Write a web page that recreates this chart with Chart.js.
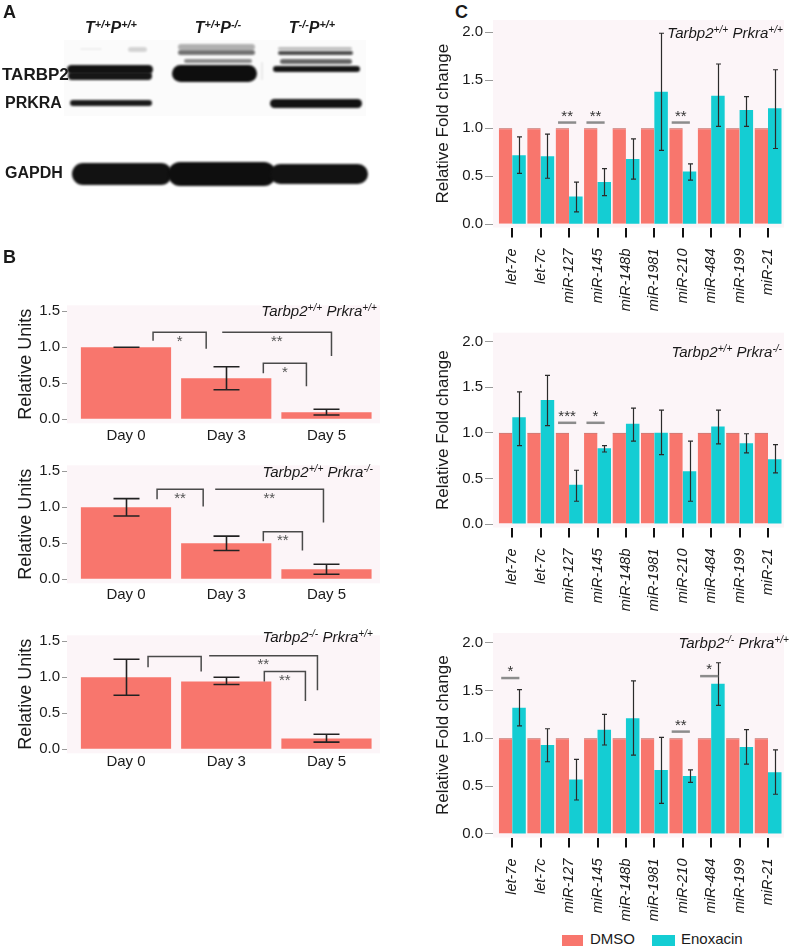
<!DOCTYPE html>
<html>
<head>
<meta charset="utf-8">
<title>TARBP2 / PRKRA and enoxacin</title>
<script src="https://cdn.jsdelivr.net/npm/chart.js@4.4.1/dist/chart.umd.min.js"></script>
<style>
  html, body { margin: 0; padding: 0; background: #fff; }
  body { position: relative; width: 792px; height: 948px; overflow: hidden;
         font-family: "Liberation Sans", Arial, sans-serif; color: #1a1a1a; }
  canvas, .t { position: absolute; }
  .t { white-space: nowrap; }
  .panel { font-weight: bold; font-size: 18px; line-height: 18px; }
  .blot { font-weight: bold; font-size: 16px; line-height: 18px; }
  .lane { font-weight: bold; font-style: italic; font-size: 16px; line-height: 16px; transform: translateX(-50%); }
  .geno { font-style: italic; font-size: 15px; line-height: 18px; }
  sup { font-size: 0.68em; line-height: 0; vertical-align: 0; position: relative; top: -0.5em; }
  .sw { position: absolute; height: 11px; }
  .leg { font-size: 15px; line-height: 16px; }
</style>
</head>
<body>
<canvas id="blot" width="392" height="200" style="left:0;top:0"></canvas>
<div class="t panel" style="left:3px;top:3px">A</div>
<div class="t panel" style="left:3px;top:248px">B</div>
<div class="t panel" style="left:455px;top:3px">C</div>

<div class="t lane" style="left:111px;top:20px">T<sup>+/+</sup>P<sup>+/+</sup></div>
<div class="t lane" style="left:218px;top:20px">T<sup>+/+</sup>P<sup>-/-</sup></div>
<div class="t lane" style="left:312px;top:20px">T<sup>-/-</sup>P<sup>+/+</sup></div>
<div class="t blot" style="left:2px;top:66px;font-size:17px">TARBP2</div>
<div class="t blot" style="left:5px;top:94px">PRKRA</div>
<div class="t blot" style="left:5px;top:164px">GAPDH</div>

<canvas id="b1"></canvas>
<canvas id="b2"></canvas>
<canvas id="b3"></canvas>
<canvas id="c1"></canvas>
<canvas id="c2"></canvas>
<canvas id="c3"></canvas>

<div class="t geno" style="right:415px;top:302px">Tarbp2<sup>+/+</sup> Prkra<sup>+/+</sup></div>
<div class="t geno" style="right:419px;top:463px">Tarbp2<sup>+/+</sup> Prkra<sup>-/-</sup></div>
<div class="t geno" style="right:419px;top:628px">Tarbp2<sup>-/-</sup> Prkra<sup>+/+</sup></div>
<div class="t geno" style="right:9px;top:24px">Tarbp2<sup>+/+</sup> Prkra<sup>+/+</sup></div>
<div class="t geno" style="right:10px;top:343px">Tarbp2<sup>+/+</sup> Prkra<sup>-/-</sup></div>
<div class="t geno" style="right:3px;top:634px">Tarbp2<sup>-/-</sup> Prkra<sup>+/+</sup></div>

<div id="legend"></div>

<script>
// ---- data ----
const days = ["Day 0", "Day 3", "Day 5"];
const mirs = ["let-7e", "let-7c", "miR-127", "miR-145", "miR-148b",
              "miR-1981", "miR-210", "miR-484", "miR-199", "miR-21"];
const seriesNames = ["DMSO", "Enoxacin"];
const unitTicks = [0, 0.5, 1, 1.5];
const foldTicks = [0, 0.5, 1, 1.5, 2];

// B: relative units over days
const wtUnits = [1.0, 0.57, 0.10];
const wtUnitsLow = [1.0, 0.41, 0.06];
const wtUnitsHigh = [1.0, 0.73, 0.14];
const pkoUnits = [1.0, 0.50, 0.14];
const pkoUnitsLow = [0.88, 0.40, 0.07];
const pkoUnitsHigh = [1.12, 0.60, 0.21];
const tkoUnits = [1.0, 0.94, 0.15];
const tkoUnitsLow = [0.75, 0.90, 0.10];
const tkoUnitsHigh = [1.25, 1.0, 0.21];

// brackets: [from, to, top, left end, right end, label]
const wtUnitsSig = [[0.27, 0.80, 1.21, 1.09, 0.98, "*"], [0.96, 2.05, 1.21, 1.21, 0.88, "**"], [1.37, 1.80, 0.78, 0.64, 0.46, "*"]];
const pkoUnitsSig = [[0.31, 0.77, 1.25, 1.11, 1.01, "**"], [0.89, 1.97, 1.25, 1.25, 0.79, "**"], [1.37, 1.76, 0.66, 0.53, 0.40, "**"]];
const tkoUnitsSig = [[0.22, 0.75, 1.29, 1.14, 1.08, ""], [0.83, 1.91, 1.30, 1.30, 0.82, "**"], [1.38, 1.79, 1.08, 0.94, 0.67, "**"]];

// C: relative fold change, DMSO vs enoxacin
const dmso = [1, 1, 1, 1, 1, 1, 1, 1, 1, 1];
const wtEno = [0.72, 0.71, 0.29, 0.44, 0.68, 1.38, 0.55, 1.34, 1.19, 1.21];
const wtEnoLow = [0.53, 0.48, 0.13, 0.30, 0.47, 0.77, 0.46, 1.02, 1.02, 0.79];
const wtEnoHigh = [0.91, 0.94, 0.44, 0.58, 0.89, 1.99, 0.63, 1.67, 1.33, 1.61];
const pkoEno = [1.17, 1.36, 0.43, 0.83, 1.10, 1.00, 0.58, 1.07, 0.885, 0.71];
const pkoEnoLow = [0.86, 1.08, 0.25, 0.79, 0.91, 0.76, 0.25, 0.88, 0.78, 0.56];
const pkoEnoHigh = [1.45, 1.63, 0.59, 0.86, 1.27, 1.25, 0.91, 1.25, 0.99, 0.87];
const tkoEno = [1.32, 0.93, 0.57, 1.09, 1.21, 0.67, 0.605, 1.57, 0.91, 0.645];
const tkoEnoLow = [1.13, 0.755, 0.355, 0.93, 0.825, 0.32, 0.54, 1.345, 0.73, 0.415];
const tkoEnoHigh = [1.51, 1.10, 0.78, 1.25, 1.60, 1.01, 0.67, 1.79, 1.09, 0.88];

// significance marks: [category, level, label]
const wtFoldSig = [[2, 1.06, "**"], [3, 1.06, "**"], [6, 1.06, "**"]];
const pkoFoldSig = [[2, 1.11, "***"], [3, 1.11, "*"]];
const tkoFoldSig = [[0, 1.63, "*"], [6, 1.07, "**"], [7, 1.65, "*"]];

// ---- styling ----
const SALMON = "#f8766d";
const CYAN = "#14cdd3";
const PANEL_BG = "#fcf5f8";
const INK = "#1a1a1a";
Chart.defaults.font.family = "'Liberation Sans', Arial, sans-serif";

// ---- plugins ----
const panelBg = {
  id: "panelBg",
  beforeDraw(chart) {
    const { ctx, chartArea: a } = chart;
    ctx.save();
    ctx.fillStyle = PANEL_BG;
    ctx.fillRect(a.left, a.top, a.right - a.left, a.bottom - a.top);
    ctx.restore();
  },
};

const errBars = {
  id: "errBars",
  afterDatasetsDraw(chart, args, opts) {
    const { ctx } = chart;
    const ys = chart.scales.y;
    ctx.save();
    ctx.strokeStyle = opts.color;
    ctx.lineWidth = opts.width;
    (opts.sets || []).forEach((s) => {
      chart.getDatasetMeta(s.dataset).data.forEach((bar, i) => {
        const x = Math.round(bar.x) + 0.5;
        const y1 = ys.getPixelForValue(s.low[i]);
        const y2 = ys.getPixelForValue(s.high[i]);
        const c = opts.cap / 2;
        ctx.beginPath();
        ctx.moveTo(x, y1); ctx.lineTo(x, y2);
        ctx.moveTo(x - c, y1); ctx.lineTo(x + c, y1);
        ctx.moveTo(x - c, y2); ctx.lineTo(x + c, y2);
        ctx.stroke();
      });
    });
    ctx.restore();
  },
};

const brackets = {
  id: "brackets",
  afterDatasetsDraw(chart, args, opts) {
    const { ctx } = chart;
    const xs = chart.scales.x, ys = chart.scales.y;
    ctx.save();
    ctx.strokeStyle = "#4a4a4a";
    ctx.lineWidth = 1.5;
    ctx.fillStyle = "#555";
    ctx.font = "15px 'Liberation Sans', Arial, sans-serif";
    ctx.textAlign = "center";
    ctx.textBaseline = "top";
    (opts.items || []).forEach(([x0, x1, top, l, r, label]) => {
      const px0 = xs.getPixelForValue(x0), px1 = xs.getPixelForValue(x1);
      const pt = ys.getPixelForValue(top);
      ctx.beginPath();
      ctx.moveTo(px0, ys.getPixelForValue(l));
      ctx.lineTo(px0, pt);
      ctx.lineTo(px1, pt);
      ctx.lineTo(px1, ys.getPixelForValue(r));
      ctx.stroke();
      if (label) ctx.fillText(label, (px0 + px1) / 2, pt + 2);
    });
    ctx.restore();
  },
};

const sigLines = {
  id: "sigLines",
  afterDatasetsDraw(chart, args, opts) {
    const { ctx } = chart;
    const xs = chart.scales.x, ys = chart.scales.y;
    ctx.save();
    ctx.strokeStyle = "#8c8c8c";
    ctx.lineWidth = 2.5;
    ctx.fillStyle = "#333";
    ctx.font = "15px 'Liberation Sans', Arial, sans-serif";
    ctx.textAlign = "center";
    ctx.textBaseline = "alphabetic";
    (opts.items || []).forEach(([i, level, label]) => {
      const py = ys.getPixelForValue(level);
      ctx.beginPath();
      ctx.moveTo(xs.getPixelForValue(i - 0.39), py);
      ctx.lineTo(xs.getPixelForValue(i + 0.25), py);
      ctx.stroke();
      ctx.fillText(label, xs.getPixelForValue(i - 0.07), py - 2);
    });
    ctx.restore();
  },
};

// ---- helpers ----
function place(id, box) {
  const c = document.getElementById(id);
  c.width = box.w; c.height = box.h;
  c.style.left = box.x + "px"; c.style.top = box.y + "px";
  c.style.width = box.w + "px"; c.style.height = box.h + "px";
  return c;
}

function noPad(s) {
  s.paddingTop = 0; s.paddingBottom = 0; s.paddingLeft = 0; s.paddingRight = 0;
}

function baseOptions(box, area, xr, yr, ticksY, yTitle, titleFont, titlePad) {
  return {
    responsive: false,
    animation: false,
    events: [],
    layout: { padding: { top: area.t - box.y, right: box.x + box.w - area.r, left: 0, bottom: 0 } },
    scales: {
      x: {
        type: "linear", min: xr.min, max: xr.max, offset: false,
        afterFit: (s) => { s.height = box.y + box.h - area.b; noPad(s); },
        border: { display: false },
      },
      y: {
        min: yr.min, max: yr.max,
        afterBuildTicks: (s) => { s.ticks = ticksY.map((v) => ({ value: v })); },
        afterFit: (s) => { s.width = area.l - box.x; noPad(s); },
        border: { display: false },
        grid: { drawOnChartArea: false, drawTicks: true, tickLength: 5, color: "#9a9a9a", lineWidth: 1 },
        ticks: { callback: (v) => v.toFixed(1), font: { size: 15 }, color: INK, padding: 2 },
        title: { display: true, text: yTitle, font: { size: titleFont }, color: INK, padding: { top: titlePad, bottom: 0 } },
      },
    },
  };
}

function buildUnits(id, box, area, yr, values, low, high, sig, labelPad) {
  const opts = baseOptions(box, area, { min: -0.5885, max: 2.534 }, yr, unitTicks, "Relative Units", 18, 15);
  Object.assign(opts.scales.x, {
    afterBuildTicks: (s) => { s.ticks = days.map((d, i) => ({ value: i })); },
    grid: { display: false, drawTicks: false },
    ticks: { callback: (v, i) => days[i], font: { size: 15 }, color: INK, padding: labelPad, maxRotation: 0, autoSkip: false },
  });
  opts.plugins = {
    legend: { display: false },
    tooltip: { enabled: false },
    errBars: { color: "#222", width: 1.6, cap: 26, sets: [{ dataset: 0, low: low, high: high }] },
    brackets: { items: sig },
  };
  return new Chart(place(id, box), {
    type: "bar",
    data: {
      datasets: [{
        label: "Relative Units",
        data: values.map((v, i) => ({ x: i, y: v })),
        backgroundColor: SALMON,
        barPercentage: 0.9,
        categoryPercentage: 1,
      }],
    },
    options: opts,
    plugins: [panelBg, errBars, brackets],
  });
}

function buildFold(id, box, area, yr, eno, low, high, sig) {
  const opts = baseOptions(box, area, { min: -0.679, max: 9.563 }, yr, foldTicks, "Relative Fold change", 17, 33);
  opts.scales.y.grid.tickLength = 8;
  Object.assign(opts.scales.x, {
    afterBuildTicks: (s) => { s.ticks = mirs.map((m, i) => ({ value: i })); },
    grid: { display: true, drawOnChartArea: false, drawTicks: true, tickLength: 10, color: "#111", lineWidth: 2, offset: false },
    ticks: {
      callback: (v, i) => mirs[i], font: { size: 14.5, style: "italic" }, color: INK,
      padding: 11, minRotation: 90, maxRotation: 90, autoSkip: false,
    },
  });
  opts.plugins = {
    legend: { display: false },
    tooltip: { enabled: false },
    errBars: { color: "#2b2b2b", width: 1.2, cap: 5, sets: [{ dataset: 1, low: low, high: high }] },
    sigLines: { items: sig },
  };
  return new Chart(place(id, box), {
    type: "bar",
    data: {
      datasets: [
        {
          label: seriesNames[0],
          data: dmso.map((v, i) => ({ x: i, y: v })),
          backgroundColor: SALMON,
          borderColor: "#b9544c",
          borderWidth: { top: 1, left: 0, right: 0, bottom: 0 },
          barPercentage: 1,
          categoryPercentage: 0.95,
        },
        {
          label: seriesNames[1],
          data: eno.map((v, i) => ({ x: i, y: v })),
          backgroundColor: CYAN,
          barPercentage: 1,
          categoryPercentage: 0.95,
        },
      ],
    },
    options: opts,
    plugins: [panelBg, errBars, sigLines],
  });
}

// ---- panel A: western blot image ----
function drawBlot() {
  const ctx = document.getElementById("blot").getContext("2d");
  ctx.fillStyle = "rgba(0,0,0,0.014)";
  ctx.fillRect(64, 40, 302, 76);
  ctx.filter = "blur(1.3px)";
  const bands = [
    [128, 147, 47, 52, "rgba(0,0,0,0.16)"],
    [80, 102, 48, 50, "rgba(0,0,0,0.06)"],
    [67, 153, 65, 74, "#121212"],
    [68, 152, 72, 80, "#161616"],
    [178, 255, 44, 50, "rgba(0,0,0,0.3)"],
    [178, 255, 50, 55, "rgba(0,0,0,0.55)"],
    [184, 252, 59, 63, "rgba(0,0,0,0.45)"],
    [172, 257, 65, 82, "#0e0e0e"],
    [278, 352, 47, 50, "rgba(0,0,0,0.25)"],
    [278, 353, 51, 55, "rgba(0,0,0,0.7)"],
    [280, 352, 59, 64, "rgba(0,0,0,0.6)"],
    [273, 360, 66, 72, "#141414"],
    [70, 152, 100, 106, "#1a1a1a"],
    [270, 362, 99, 108, "#121212"],
    [72, 172, 163, 185, "#121212"],
    [168, 276, 162, 186, "#0e0e0e"],
    [270, 368, 164, 184, "#121212"],
  ];
  bands.forEach(([x0, x1, y0, y1, col]) => {
    ctx.fillStyle = col;
    ctx.beginPath();
    ctx.roundRect(x0, y0, x1 - x0, y1 - y0, (y1 - y0) / 2);
    ctx.fill();
  });
  ctx.fillStyle = "rgba(0,0,0,0.08)";
  ctx.fillRect(261, 62, 2, 18);
}

function drawLegend() {
  const colors = [SALMON, CYAN];
  const swX = [562, 652], swW = [21, 23], txtX = [590, 681];
  const el = document.getElementById("legend");
  seriesNames.forEach((name, i) => {
    const sw = document.createElement("div");
    sw.className = "sw";
    sw.style.cssText = `left:${swX[i]}px;top:935px;width:${swW[i]}px;background:${colors[i]}`;
    const tx = document.createElement("div");
    tx.className = "t leg";
    tx.style.cssText = `left:${txtX[i]}px;top:931px`;
    tx.textContent = name;
    el.appendChild(sw);
    el.appendChild(tx);
  });
}

drawBlot();
drawLegend();

buildUnits("b1", { x: 0, y: 285, w: 390, h: 163 }, { l: 67, t: 305.3, r: 380, b: 423.3 },
  { min: -0.055, max: 1.583 }, wtUnits, wtUnitsLow, wtUnitsHigh, wtUnitsSig, 4);
buildUnits("b2", { x: 0, y: 448, w: 390, h: 162 }, { l: 67, t: 465.3, r: 380, b: 583.3 },
  { min: -0.055, max: 1.583 }, pkoUnits, pkoUnitsLow, pkoUnitsHigh, pkoUnitsSig, 3);
buildUnits("b3", { x: 0, y: 615, w: 390, h: 165 }, { l: 67, t: 635.3, r: 380, b: 753.3 },
  { min: -0.055, max: 1.583 }, tkoUnits, tkoUnitsLow, tkoUnitsHigh, tkoUnitsSig, 0);

buildFold("c1", { x: 400, y: 5, w: 392, h: 312 }, { l: 493, t: 20, r: 784, b: 227.5 },
  { min: -0.033, max: 2.128 }, wtEno, wtEnoLow, wtEnoHigh, wtFoldSig);
buildFold("c2", { x: 400, y: 318, w: 392, h: 303 }, { l: 493, t: 332.7, r: 784, b: 527.5 },
  { min: -0.038, max: 2.098 }, pkoEno, pkoEnoLow, pkoEnoHigh, pkoFoldSig);
buildFold("c3", { x: 400, y: 621, w: 392, h: 308 }, { l: 493, t: 633, r: 784, b: 837.5 },
  { min: -0.037, max: 2.101 }, tkoEno, tkoEnoLow, tkoEnoHigh, tkoFoldSig);
</script>
</body>
</html>
